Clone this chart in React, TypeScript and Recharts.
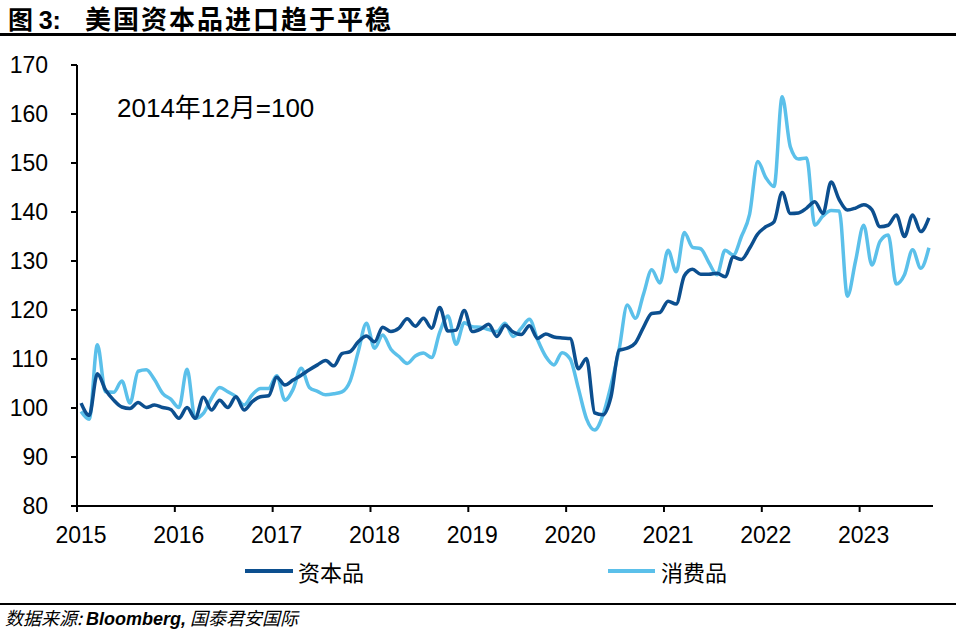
import React from 'react'
import { LineChart, Line, XAxis, YAxis } from 'recharts'

// 2015-01 .. 2023-09, 2014年12月=100
const capital = [
  101, 98.5, 107, 103.7, 101.6, 100.2, 99.9, 101.1, 100.1, 100.6, 100.1, 99.7,
  97.9, 100.1, 97.9, 102.2, 99.6, 101.6, 100.1, 102.3, 99.6, 101.3, 102.3, 102.5,
  106.3, 104.7, 105.7, 106.7, 107.8, 108.8, 109.7, 108.6, 111.1, 111.5, 113.5, 114.7,
  113.5, 116.5, 115.6, 116.3, 118.2, 116.7, 118.3, 116.3, 120.5, 115.7, 115.9, 119.9,
  115.6, 116.1, 117.1, 114.6, 116.9, 115.5, 115, 116.8, 114.2, 115.1, 114.5, 114.3,
  114.2, 108, 110.1, 99, 98.6, 102.3, 111.8, 112.2, 113.3, 116.5, 119.3, 119.5,
  121.8, 121.2, 127, 128.3, 127.3, 127.3, 127.5, 126.8, 130.8, 130.3, 132.6, 135.5,
  137, 138, 144, 139.7, 139.8, 140.8, 142.1, 139.7, 146.1, 142.5, 140.4, 140.8,
  141.5, 140.5, 137, 137.3, 139.4, 135, 139.4, 136, 138.8,
]
const consumer = [
  99.3, 97.7, 112.9, 103.3, 103.2, 105.5, 101, 107.5, 107.8, 105.8, 103, 101.8,
  100.1, 107.9, 97.9, 98.9, 102, 104.2, 103.3, 102.3, 100.6, 102.7, 104, 104,
  106.6, 101.6, 103.8, 108.1, 104.2, 103.4, 102.7, 102.9, 103.3, 105.5, 111.5, 117.3,
  112.2, 114.9, 112, 110.5, 109.1, 110.6, 111.2, 110.3, 115.5, 118.8, 113, 117.4,
  116.6, 116.5, 116, 115.6, 117.3, 114.6, 116.3, 118.1, 113.9, 110.5, 108.8, 111.3,
  110, 104, 97.8, 95.5, 98.5, 104.6, 112, 121, 118.3, 123.3, 128.2, 125.5,
  132.2, 127.8, 135.8, 132.8, 132.5, 129.7, 127.2, 132.2, 131.2, 135, 139.5, 150.3,
  147, 145.2, 163.5, 153.3, 150.8, 151, 137.3, 139.2, 140.3, 140.2, 122.8, 130,
  137.3, 129.2, 134, 135.3, 125.3, 127.2, 132.3, 128.5, 132.7,
]
const years = [2015, 2016, 2017, 2018, 2019, 2020, 2021, 2022, 2023]
const yTicks = [80, 90, 100, 110, 120, 130, 140, 150, 160, 170]

const DARK = '#0C4F8F'
const LIGHT = '#5BC0EA'
const NUM_FONT = '"Liberation Sans", Arial, "Noto Sans CJK SC", sans-serif'
const CJK_FONT = '"Noto Sans CJK SC", "Liberation Sans", sans-serif'

const data = capital.map((v, i) => ({ i, capital: v, consumer: consumer[i] }))

const XTick = (props: any) => {
  const { x, y, payload } = props
  const yr = 2015 + Math.round((payload.value + 0.5) / 12)
  return (
    <text x={x + 4} y={y} dy="0.71em" textAnchor="middle" fontSize={23} fill="#000" fontFamily={NUM_FONT}>
      {yr}
    </text>
  )
}

const YTick = (props: any) => {
  const { x, y, payload } = props
  return (
    <text x={x} y={y} dy="0.355em" textAnchor="end" fontSize={23} fill="#000" fontFamily={NUM_FONT}>
      {payload.value}
    </text>
  )
}

export default function App() {
  return (
    <div style={{ position: 'absolute', left: 0, top: 0, width: 956, height: 629, background: '#fff', overflow: 'hidden' }}>
      <div style={{ position: 'absolute', left: 8, top: 2, fontFamily: CJK_FONT, fontWeight: 700, fontSize: 25, lineHeight: '32px', whiteSpace: 'nowrap' }}>
        图 <span style={{ fontFamily: NUM_FONT }}>3:</span>
      </div>
      <div style={{ position: 'absolute', left: 85, top: 2, fontFamily: CJK_FONT, fontWeight: 700, fontSize: 26, letterSpacing: 2, lineHeight: '32px', whiteSpace: 'nowrap' }}>
        美国资本品进口趋于平稳
      </div>
      <div style={{ position: 'absolute', left: 0, top: 33, width: 956, height: 2.5, background: '#000' }} />

      <LineChart width={956} height={629} data={data} margin={{ top: 65, right: 23, bottom: 83, left: 17 }}>
        <XAxis
          type="number"
          dataKey="i"
          domain={[-0.5, 104.5]}
          ticks={years.map((_, k) => k * 12 - 0.5)}
          tick={<XTick />}
          tickSize={6}
          tickMargin={15}
          height={40}
          stroke="#000"
          strokeWidth={2}
          allowDataOverflow
        />
        <YAxis
          domain={[80, 170]}
          ticks={yTicks}
          tick={<YTick />}
          tickSize={6}
          tickMargin={23}
          width={60}
          stroke="#000"
          strokeWidth={2}
          allowDataOverflow
        />
        <Line type="monotone" dataKey="consumer" stroke={LIGHT} strokeWidth={3.5} dot={false} isAnimationActive={false} />
        <Line type="monotone" dataKey="capital" stroke={DARK} strokeWidth={3.5} dot={false} isAnimationActive={false} />
      </LineChart>

      <div style={{ position: 'absolute', left: 117, top: 95, fontFamily: NUM_FONT, fontSize: 26, lineHeight: '26px', whiteSpace: 'nowrap' }}>
        2014年12月=100
      </div>

      <div style={{ position: 'absolute', left: 245, top: 569, width: 48, height: 4, background: DARK }} />
      <div style={{ position: 'absolute', left: 298, top: 558, fontFamily: CJK_FONT, fontSize: 22, lineHeight: '26px' }}>资本品</div>
      <div style={{ position: 'absolute', left: 608, top: 569, width: 47, height: 4, background: LIGHT }} />
      <div style={{ position: 'absolute', left: 661, top: 558, fontFamily: CJK_FONT, fontSize: 22, lineHeight: '26px' }}>消费品</div>

      <div style={{ position: 'absolute', left: 0, top: 603, width: 956, height: 2, background: '#000' }} />
      <div style={{ position: 'absolute', left: 5, top: 605, fontFamily: CJK_FONT, fontStyle: 'italic', fontSize: 18, lineHeight: '24px', whiteSpace: 'nowrap' }}>
        数据来源: <span style={{ fontFamily: NUM_FONT, fontWeight: 700 }}>Bloomberg,</span> 国泰君安国际
      </div>
    </div>
  )
}
